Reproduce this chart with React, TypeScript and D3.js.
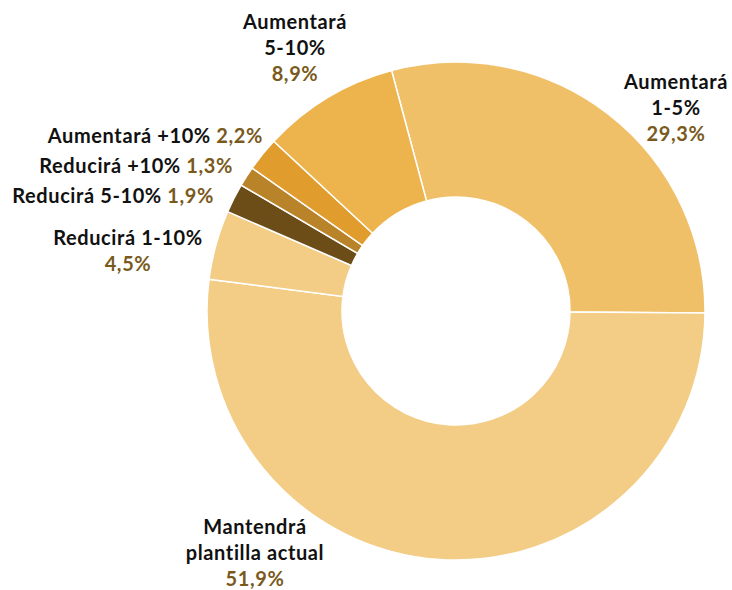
import React, { useEffect, useRef } from 'react'
import * as d3 from 'd3'

const categories = [
  'Aumentará 1-5%',
  'Mantendrá plantilla actual',
  'Reducirá 1-10%',
  'Reducirá 5-10%',
  'Reducirá +10%',
  'Aumentará +10%',
  'Aumentará 5-10%',
]
const values = [29.3, 51.9, 4.5, 1.9, 1.3, 2.2, 8.9]
const colors = ['#F0C069', '#F3CD85', '#F3CD85', '#6C4D18', '#B9832A', '#E09D2E', '#EDB34C']

// label lines (name lines, value goes after them)
const labelLines = [
  ['Aumentará', '1-5%'],
  ['Mantendrá', 'plantilla actual'],
  ['Reducirá 1-10%'],
  ['Reducirá 5-10%'],
  ['Reducirá +10%'],
  ['Aumentará +10%'],
  ['Aumentará', '5-10%'],
]
const labelPos = [
  { x: 676, y: 89, anchor: 'middle', inline: false },
  { x: 255, y: 534, anchor: 'middle', inline: false },
  { x: 128, y: 245, anchor: 'middle', inline: false },
  { x: 214, y: 203, anchor: 'end', inline: true },
  { x: 233, y: 173, anchor: 'end', inline: true },
  { x: 263, y: 143, anchor: 'end', inline: true },
  { x: 295, y: 29, anchor: 'middle', inline: false },
]

const fmt = (v: number) => v.toFixed(1).replace('.', ',') + '%'

export default function App() {
  const ref = useRef<SVGSVGElement>(null)

  useEffect(() => {
    document.body.style.margin = '0'
    document.body.style.overflow = 'hidden'

    const width = 732
    const height = 590
    const cx = 456
    const cy = 311
    const outer = 249
    const inner = 114

    const svg = d3.select(ref.current)
    svg.selectAll('*').remove()

    const start = (-15 * Math.PI) / 180
    const pie = d3.pie<number>().sort(null).value(d => d)
      .startAngle(start).endAngle(start + 2 * Math.PI)
    const arc = d3.arc<d3.PieArcDatum<number>>().innerRadius(inner).outerRadius(outer)

    const g = svg.append('g').attr('transform', `translate(${cx},${cy})`)
    g.selectAll('path')
      .data(pie(values))
      .enter()
      .append('path')
      .attr('d', arc)
      .attr('fill', (d, i) => colors[i])
      .attr('stroke', '#fff')
      .attr('stroke-width', 1.5)

    const labels = svg.append('g')
      .style('font-family', 'Lato, "Open Sans", sans-serif')
      .style('font-weight', 'bold')
      .style('font-size', '20px')
      .style('letter-spacing', '0.6px')

    values.forEach((v, i) => {
      const p = labelPos[i]
      const t = labels.append('text')
        .attr('x', p.x)
        .attr('y', p.y)
        .attr('text-anchor', p.anchor)
      labelLines[i].forEach((line, j) => {
        t.append('tspan')
          .attr('x', p.x)
          .attr('dy', j === 0 ? 0 : 26)
          .attr('fill', '#111')
          .text(line)
      })
      if (p.inline) {
        t.append('tspan').attr('fill', '#7A5A1C').text(' ' + fmt(v))
      } else {
        t.append('tspan')
          .attr('x', p.x)
          .attr('dy', 26)
          .attr('fill', '#7A5A1C')
          .text(fmt(v))
      }
    })

    svg.attr('width', width).attr('height', height)
  }, [])

  return (
    <svg ref={ref} width={732} height={590} style={{ display: 'block', background: '#fff' }} />
  )
}
